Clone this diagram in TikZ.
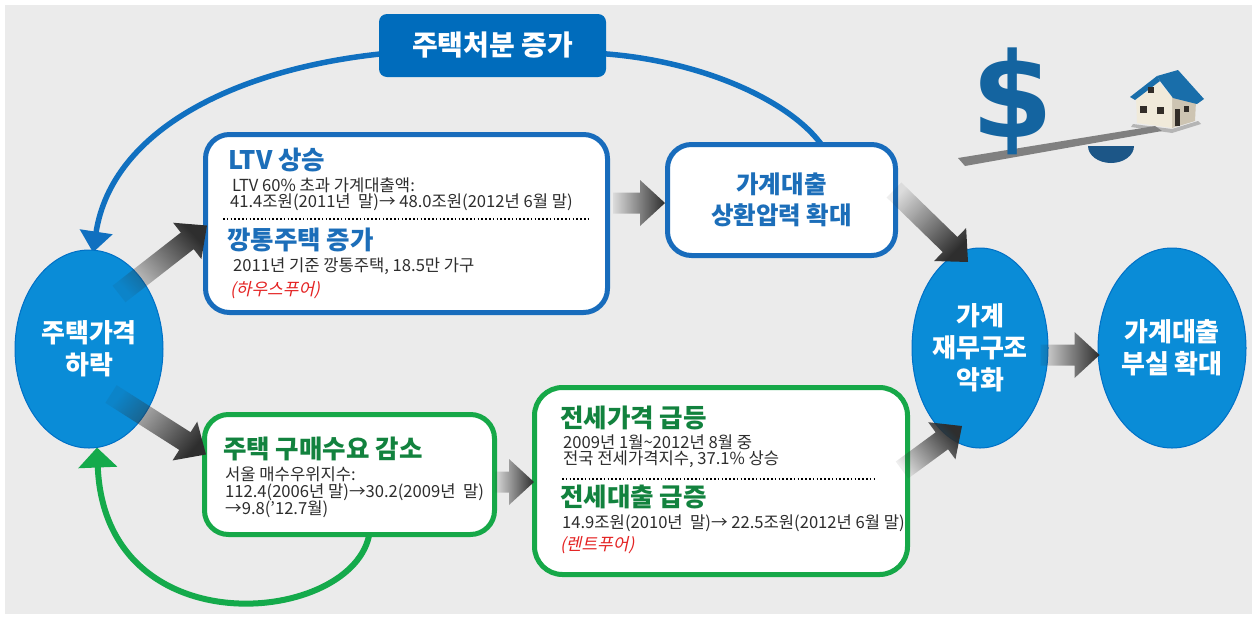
\documentclass[tikz,border=0pt]{standalone}
\usepackage{fontspec}
\setmainfont{Noto Sans CJK KR}
\newfontfamily\slantkr[FakeSlant=0.22]{Noto Sans CJK KR}
\newfontfamily\dollarfont{DejaVu Sans}
\usetikzlibrary{arrows.meta,fadings,calc,shapes.geometric}

\definecolor{bggray}{RGB}{235,235,235}
\definecolor{dispblue}{RGB}{0,108,188}
\definecolor{frameblue}{RGB}{24,108,188}
\definecolor{ellfill}{RGB}{10,140,215}
\definecolor{ellline}{RGB}{0,112,198}
\definecolor{titleblue}{RGB}{28,110,185}
\definecolor{framegreen}{RGB}{22,168,72}
\definecolor{titlegreen}{RGB}{18,130,62}
\definecolor{bodygray}{RGB}{45,45,45}
\definecolor{notered}{RGB}{228,35,35}
\definecolor{arcblue}{RGB}{16,112,192}
\definecolor{arcgreen}{RGB}{20,170,75}
\definecolor{dollarmain}{RGB}{20,100,160}
\definecolor{fulcrumblue}{RGB}{28,86,135}
\definecolor{plankgray}{RGB}{128,128,128}
\definecolor{roofblue}{RGB}{25,110,170}
\definecolor{housefront}{RGB}{240,234,218}
\definecolor{houseside}{RGB}{205,196,178}
\definecolor{windowdark}{RGB}{50,45,40}

\tikzfading[name=arrowfade, left color=transparent!92, right color=transparent!0]

\pgfdeclarelayer{base}
\pgfdeclarelayer{back}
\pgfsetlayers{base,back,main}

% thick shaded arrow from one named coordinate to another
\makeatletter
\newcommand\fadearrow[2]{%
  \pgfpointdiff{\pgfpointanchor{#1}{center}}{\pgfpointanchor{#2}{center}}%
  \edef\fadx{\the\pgf@x}\edef\fady{\the\pgf@y}%
  \pgfmathsetmacro\falen{veclen(\fadx,\fady)}%
  \pgfmathsetmacro\faang{atan2(\fady,\fadx)}%
  \begin{scope}[shift={(#1)}, rotate=\faang]
    \fill[arrowbody, fading angle=\faang]
      (0,-10.5) -- (\falen-25,-10.5) -- (\falen-25,-23) -- (\falen,0)
      -- (\falen-25,23) -- (\falen-25,10.5) -- (0,10.5) -- cycle;
  \end{scope}}
\makeatother

\begin{document}
\begin{tikzpicture}[x=1pt,y=-1pt,
  frame/.style={draw=#1, line width=5, fill=white, rounded corners=24, inner sep=0},
  blob/.style={ellipse, fill=ellfill, draw=ellline, line width=1, inner sep=0,
    text=white, align=center, font=\fontsize{26}{32}\selectfont\bfseries},
  headline/.style={anchor=west, inner sep=0, font=\fontsize{25.5}{28}\selectfont\bfseries},
  bodyline/.style={anchor=west, inner sep=0, text=bodygray, font=\fontsize{16.6}{18}\selectfont},
  noteline/.style={anchor=west, inner sep=0, text=notered, font=\slantkr\fontsize{17}{19}\selectfont},
  dotsep/.style={line width=1.6, dash pattern=on 1.6pt off 2.2pt},
  loopblue/.style={draw=arcblue, line width=5.5},
  loopgreen/.style={draw=arcgreen, line width=6},
  arrowbody/.style={fill=black!82, path fading=arrowfade}]

\useasboundingbox (0,0) rectangle (1252,619);
\begin{pgfonlayer}{base}
  \fill[bggray] (5,5) rectangle (1252,614);
\end{pgfonlayer}

% ---- main boxes ----
\node[fill=dispblue, rounded corners=8, minimum width=227, minimum height=63, inner sep=0,
  text=white, font=\fontsize{28}{30}\selectfont\bfseries] (dispose) at (492.5,45.5) {주택처분 증가};

\node[blob, minimum width=148, minimum height=198] (fall) at (89,349) {주택가격\\하락};
\node[blob, minimum width=136, minimum height=200] (weak) at (980,348) {가계\\재무구조\\악화};
\node[blob, minimum width=148, minimum height=200] (npl) at (1172,348) {가계대출\\부실 확대};

\node[frame=frameblue, minimum width=402, minimum height=178] (ltv) at (406.5,223.5) {};
\node[frame=frameblue, minimum width=228, minimum height=111, text=titleblue, align=center,
  font=\fontsize{24.5}{31}\selectfont\bfseries] (loan) at (781.5,200) {가계대출\\상환압력 확대};
\node[frame=framegreen, minimum width=290, minimum height=120] (buy) at (349.5,474.5) {};
\node[frame=framegreen, minimum width=373, minimum height=187, rounded corners=28] (rent) at (721,481) {};

% ---- texts of the LTV box ----
\node[headline, text=titleblue] (ltvT) at (228,160) {LTV 상승};
\node[bodyline] (ltvA) at (232,185) {LTV 60\% 초과 가계대출액:};
\node[bodyline] (ltvB) at (230,202) {41.4조원(2011년\ \ 말)→ 48.0조원(2012년 6월 말)};
\draw[dotsep] ($(ltv.west)+(20,-4.5)$) -- ($(ltv.west)+(387,-4.5)$);
\node[headline, text=titleblue] (emptyT) at (227,240) {깡통주택 증가};
\node[bodyline] (emptyA) at (233,266) {2011년 기준 깡통주택, 18.5만 가구};
\node[noteline] (emptyN) at (230,290) {(하우스푸어)};

% ---- texts of the demand box ----
\node[headline, text=titlegreen] (buyT) at (223,449) {주택 구매수요 감소};
\node[bodyline] (buyA) at (225,474) {서울 매수우위지수:};
\node[bodyline] (buyB) at (225,492) {112.4(2006년 말)→30.2(2009년\ \ 말)};
\node[bodyline] (buyC) at (225,509) {→9.8('12.7월)};

% ---- texts of the jeonse box ----
\node[headline, text=titlegreen] (rentT) at (560,418) {전세가격 급등};
\node[bodyline] (rentA) at (563,442) {2009년 1월\textasciitilde 2012년 8월 중};
\node[bodyline] (rentB) at (563,459) {전국 전세가격지수, 37.1\% 상승};
\draw[dotsep] ($(rent.west)+(30,-2)$) -- ($(rent.west)+(345,-2)$);
\node[headline, text=titlegreen] (loanT2) at (560,497) {전세대출 급증};
\node[bodyline] (rentC) at (562,523) {14.9조원(2010년\ \ 말)→ 22.5조원(2012년 6월 말)};
\node[noteline] (rentN) at (560,545) {(렌트푸어)};

% ---- feedback loops ----
\begin{pgfonlayer}{back}
  \draw[loopblue] ($(loan.north)+(41,4)$) .. controls (790,100) and (700,60) .. ($(dispose.east)+(-6,8)$);
  \draw[loopblue, -{Triangle[width=32pt,length=21pt]}]
    ($(dispose.west)+(6,8)$) .. controls (240,68) and (112,128) .. ($(fall.north)+(4,3)$);
  \draw[loopgreen, -{Triangle[width=38pt,length=20pt]}]
    ($(buy.south)+(20,-4)$) .. controls (355,625) and (105,650) .. ($(fall.south)+(8,-1)$);
\end{pgfonlayer}

% ---- shaded arrows ----
\coordinate (a1s) at ($(fall.center)+(30,-55)$);
\coordinate (a1e) at ($(ltv.west)+(4,2)$);
\coordinate (a2s) at ($(fall.center)+(22,45)$);
\coordinate (a2e) at ($(buy.west)+(4,-20)$);
\coordinate (a3s) at ($(ltv.east)+(3,-20.5)$);
\coordinate (a3e) at ($(loan.west)+(0,3)$);
\coordinate (a4s) at ($(loan.east)+(-4,-10)$);
\coordinate (a4e) at ($(weak.center)+(-12,-86)$);
\coordinate (a5s) at ($(buy.east)+(-2,7.5)$);
\coordinate (a5e) at ($(rent.west)+(2,1)$);
\coordinate (a6s) at ($(rent.east)+(-8,-11)$);
\coordinate (a6e) at ($(weak.center)+(-18,78)$);
\coordinate (a7s) at ($(weak.east)+(-8,7)$);
\coordinate (a7e) at ($(npl.west)+(2,7)$);
\fadearrow{a1s}{a1e}
\fadearrow{a2s}{a2e}
\fadearrow{a3s}{a3e}
\fadearrow{a4s}{a4e}
\fadearrow{a5s}{a5e}
\fadearrow{a6s}{a6e}
\fadearrow{a7s}{a7e}

% ---- seesaw with dollar and house ----
\fill[fulcrumblue] (1134,146) arc[start angle=0, end angle=180, x radius=23, y radius=17] -- cycle;
\fill[plankgray] (958,158) -- (1155,126) -- (1162,131) -- (965,166) -- cycle;
\node[text=dollarmain, font=\dollarfont\bfseries\fontsize{118}{118}\selectfont, inner sep=0] (dollar) at (1013,101) {\$};
\fill[black!50, opacity=.5] (1133,124) -- (1172,129) -- (1198,121) -- (1201,124) -- (1172,133) -- (1131,127) -- cycle;
\fill[houseside] (1172,97) -- (1196,101) -- (1195,121) -- (1172,128) -- cycle;
\fill[housefront] (1136,96) -- (1157,80) -- (1172,97) -- (1172,128) -- (1137,123) -- cycle;
\fill[roofblue] (1157,76) -- (1178,70) -- (1204,99) -- (1197,104) -- (1173,98) -- (1160,81) -- cycle;
\fill[roofblue] (1130,97) -- (1157,76) -- (1160,81) -- (1135,100) -- cycle;
\fill[windowdark] (1148,87) rectangle (1154,93);
\fill[windowdark] (1140,106) rectangle (1147,113);
\fill[windowdark] (1157,107) rectangle (1164,114);
\fill[windowdark] (1184,106) rectangle (1189,112);
\fill[windowdark] (1175,109) rectangle (1180,126);
\end{tikzpicture}
\end{document}
